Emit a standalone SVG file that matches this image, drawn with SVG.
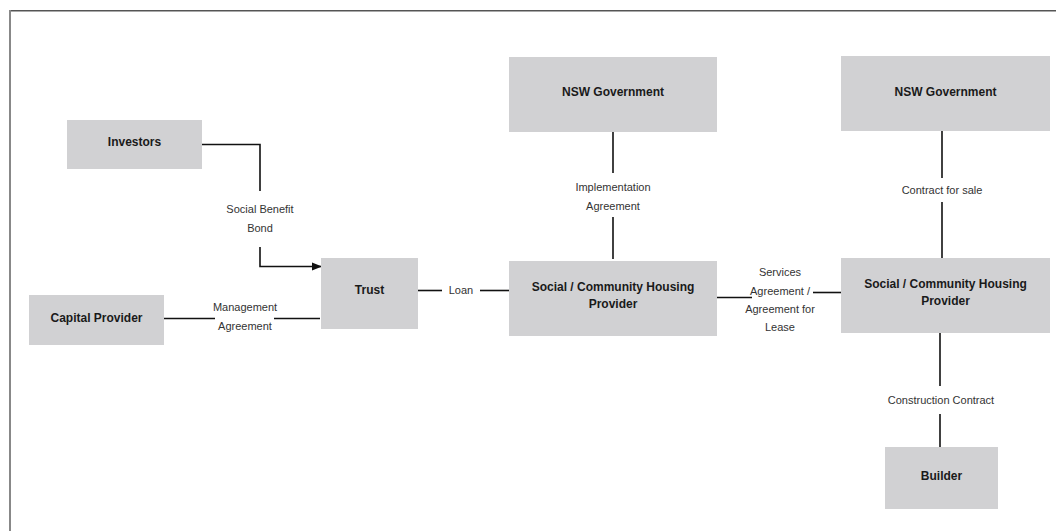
<svg xmlns="http://www.w3.org/2000/svg" width="1056" height="531" viewBox="0 0 1056 531">
<style>
.box{fill:#d1d1d3}
.t{font-family:"Liberation Sans",Arial,sans-serif;font-size:12px;font-weight:bold;fill:#1a1a1a;text-anchor:middle}
.l{font-family:"Liberation Sans",Arial,sans-serif;font-size:11px;fill:#333;text-anchor:middle}
.c{stroke:#111;stroke-width:1.6;fill:none}
</style>
<defs>
<marker id="arr" markerWidth="10" markerHeight="10" refX="9" refY="5" orient="auto" markerUnits="userSpaceOnUse">
<path d="M0,1 L10,5 L0,9 Z" fill="#111"/>
</marker>
</defs>
<rect width="1056" height="531" fill="#fff"/>
<line x1="9" y1="10.8" x2="1056" y2="10.8" stroke="#555" stroke-width="1.6"/>
<line x1="10" y1="10" x2="10" y2="531" stroke="#888" stroke-width="2"/>

<g id="connectors">
<polyline class="c" points="202,144.5 260,144.5 260,191"/>
<polyline class="c" points="260,247 260,266.5 321,266.5" marker-end="url(#arr)"/>
<text class="l" x="260" y="213">Social Benefit</text>
<text class="l" x="260" y="232">Bond</text>

<line class="c" x1="164" y1="318.5" x2="215" y2="318.5"/>
<line class="c" x1="274" y1="318.5" x2="320" y2="318.5"/>
<text class="l" x="245" y="311">Management</text>
<text class="l" x="245" y="330">Agreement</text>

<line class="c" x1="418" y1="290.5" x2="442" y2="290.5"/>
<line class="c" x1="480" y1="290.5" x2="509" y2="290.5"/>
<text class="l" x="461" y="294">Loan</text>

<line class="c" x1="613" y1="132" x2="613" y2="173"/>
<line class="c" x1="613" y1="217" x2="613" y2="259"/>
<text class="l" x="613" y="191">Implementation</text>
<text class="l" x="613" y="210">Agreement</text>

<line class="c" x1="716" y1="297.5" x2="752" y2="297.5"/>
<line class="c" x1="813" y1="292.5" x2="841" y2="292.5"/>
<text class="l" x="780" y="276">Services</text>
<text class="l" x="780" y="295">Agreement /</text>
<text class="l" x="780" y="313">Agreement for</text>
<text class="l" x="780" y="331">Lease</text>

<line class="c" x1="942" y1="131" x2="942" y2="178"/>
<line class="c" x1="942" y1="202" x2="942" y2="258"/>
<text class="l" x="942" y="194">Contract for sale</text>

<line class="c" x1="940" y1="333" x2="940" y2="386"/>
<line class="c" x1="940" y1="414" x2="940" y2="447"/>
<text class="l" x="941" y="404">Construction Contract</text>
</g>

<g id="investors"><rect class="box" x="67" y="120" width="135" height="49"/><text class="t" x="134.5" y="146">Investors</text></g>
<g id="capital-provider"><rect class="box" x="29" y="295" width="135" height="50"/><text class="t" x="96.5" y="322">Capital Provider</text></g>
<g id="trust"><rect class="box" x="321" y="258" width="97" height="71"/><text class="t" x="369.5" y="294">Trust</text></g>
<g id="nsw-gov-1"><rect class="box" x="509" y="57" width="208" height="75"/><text class="t" x="613" y="96">NSW Government</text></g>
<g id="schp-1"><rect class="box" x="509" y="261" width="208" height="75"/><text class="t" x="613" y="291">Social / Community Housing</text><text class="t" x="613" y="308">Provider</text></g>
<g id="nsw-gov-2"><rect class="box" x="841" y="56" width="209" height="75"/><text class="t" x="945.5" y="96">NSW Government</text></g>
<g id="schp-2"><rect class="box" x="841" y="258" width="209" height="75"/><text class="t" x="945.5" y="288">Social / Community Housing</text><text class="t" x="945.5" y="305">Provider</text></g>
<g id="builder"><rect class="box" x="885" y="447" width="113" height="62"/><text class="t" x="941.5" y="480">Builder</text></g>
</svg>
